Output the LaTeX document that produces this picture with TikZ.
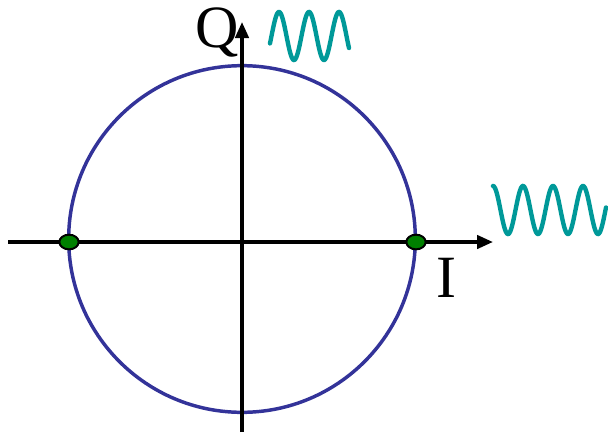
\documentclass[tikz,border=0pt]{standalone}
\usepackage{fontspec}
\setmainfont{Liberation Serif}
\usetikzlibrary{arrows.meta,shapes.geometric}
\definecolor{circblue}{RGB}{51,51,153}
\definecolor{wavecol}{RGB}{0,153,153}
\definecolor{dotgreen}{RGB}{0,128,0}
\begin{document}
\begin{tikzpicture}[x=0.75pt,y=-0.75pt,
  axis/.style={line width=2.6pt,black,-{Triangle[length=12pt,width=10pt]}},
  ring/.style={circle,draw=circblue,line width=2.6pt,minimum size=260pt,inner sep=0pt},
  wave/.style={wavecol,line width=3.3pt,line cap=round},
  dot/.style={ellipse,draw=black,line width=1.5pt,fill=dotgreen,minimum width=14.5pt,minimum height=11pt,inner sep=0pt},
  lab/.style={font=\fontsize{45}{45}\selectfont,inner sep=0pt,text=black}]
\useasboundingbox (0,0) rectangle (608,433);
\node[ring] (c) at (242,239) {};
\coordinate (xs) at (8,242);
\coordinate (xe) at (493,242);
\coordinate (ys) at (242,432);
\coordinate (ye) at (242,22);
\draw[axis] (xs) -- (xe);
\draw[axis] (ys) -- (ye);
\node[dot] (d1) at (69,242) {};
\node[dot] (d2) at (416,242) {};
\node[lab,anchor=base] (Q) at (217,47) {Q};
\node[lab,anchor=base] (I) at (446,297) {I};
\draw[wave] plot[domain=270:349,samples=120] (\x,{36-24*cos(12*(\x-279))});
\draw[wave] plot[domain=493:606,samples=160] (\x,{210-24*cos(12*(\x-493))});
\end{tikzpicture}
\end{document}
